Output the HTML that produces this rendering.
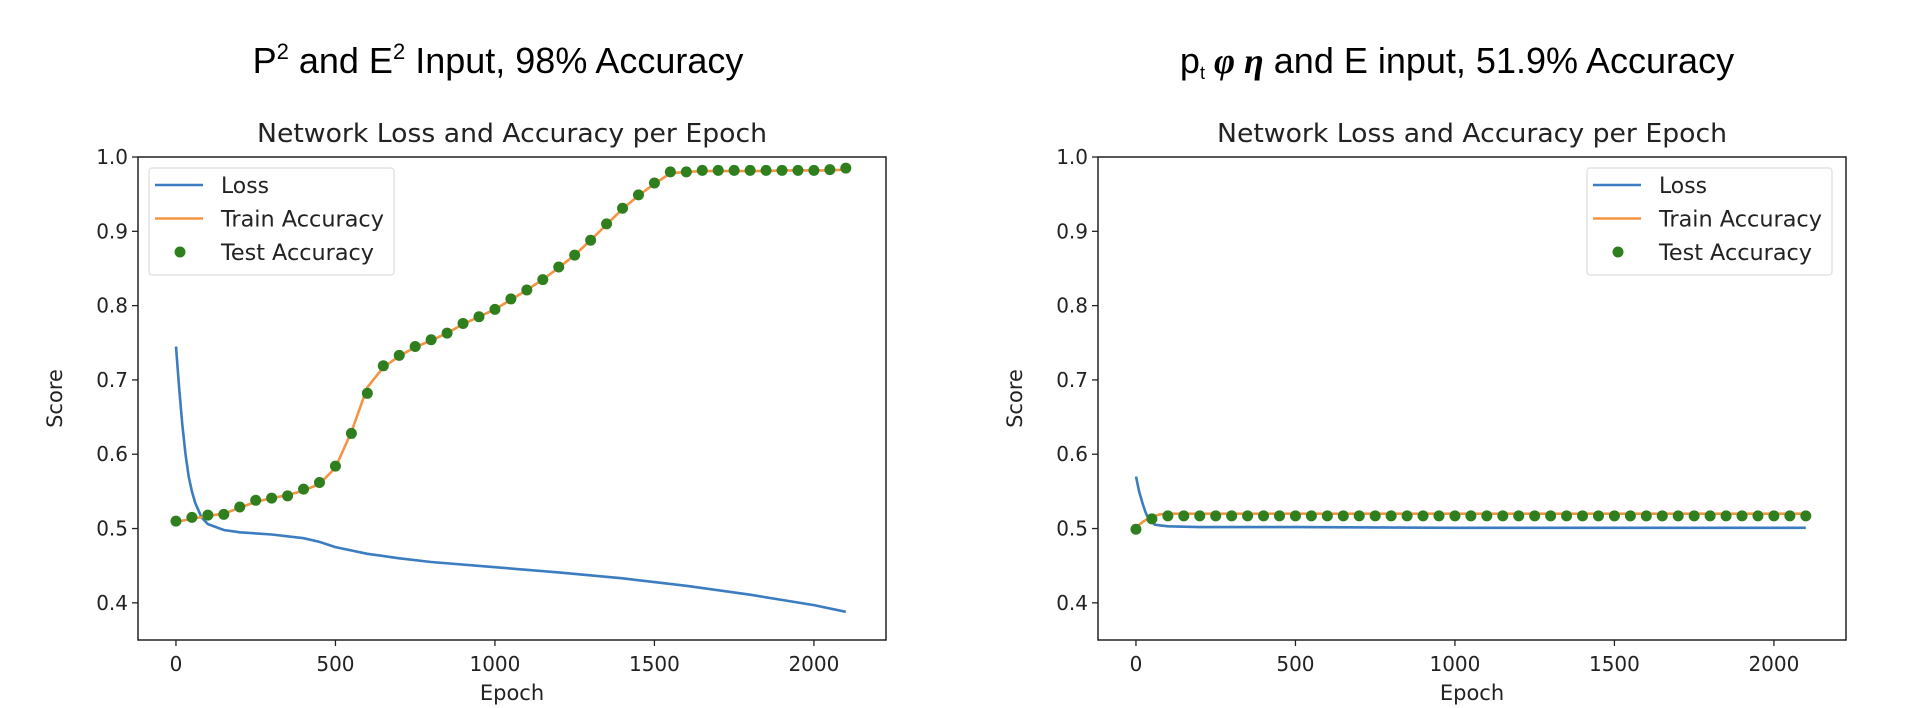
<!DOCTYPE html>
<html><head><meta charset="utf-8">
<style>
body{margin:0;background:#fff;}
svg{display:block;}
.t{font-family:"DejaVu Sans","Liberation Sans",sans-serif;fill:#222;}
.big{font-family:"Liberation Sans",sans-serif;fill:#000;}
</style></head>
<body>
<svg id="s" width="1916" height="708" viewBox="0 0 1916 708" xmlns="http://www.w3.org/2000/svg">
<text class="big" x="498" y="73" font-size="36" text-anchor="middle">P<tspan font-size="22" dy="-14">2</tspan><tspan dy="14"> and E</tspan><tspan font-size="22" dy="-14">2</tspan><tspan dy="14"> Input, 98% Accuracy</tspan></text>
<text class="big" x="1457" y="73" font-size="36" text-anchor="middle">p<tspan font-size="18" dy="6">t</tspan><tspan dy="-6" font-weight="bold" font-style="italic" font-family="Liberation Serif"> φ η</tspan><tspan> and E input, 51.9% Accuracy</tspan></text>
</svg>
<script>
// ---- left chart data ----
const leftTestX = [0,50,100,150,200,250,300,350,400,450,500,550,600,650,700,750,800,850,900,950,1000,1050,1100,1150,1200,1250,1300,1350,1400,1450,1500,1550,1600,1650,1700,1750,1800,1850,1900,1950,2000,2050,2100];
const leftTestY = [0.510,0.515,0.518,0.519,0.529,0.538,0.541,0.544,0.553,0.562,0.584,0.628,0.682,0.719,0.733,0.745,0.754,0.763,0.776,0.785,0.795,0.809,0.821,0.835,0.852,0.868,0.888,0.910,0.931,0.949,0.965,0.980,0.980,0.982,0.982,0.982,0.982,0.982,0.982,0.982,0.982,0.983,0.985];
const leftTrainX = leftTestX;
const leftTrainY = [0.509,0.513,0.517,0.520,0.528,0.536,0.541,0.545,0.551,0.560,0.582,0.630,0.690,0.717,0.732,0.744,0.753,0.763,0.775,0.785,0.795,0.808,0.821,0.835,0.851,0.868,0.888,0.909,0.930,0.948,0.964,0.978,0.980,0.981,0.981,0.981,0.981,0.981,0.982,0.982,0.982,0.982,0.983];
const leftLossX = [0,10,20,30,40,50,60,80,100,150,200,300,400,450,500,600,700,800,1000,1200,1400,1600,1800,2000,2100];
const leftLossY = [0.745,0.69,0.64,0.60,0.57,0.55,0.535,0.515,0.506,0.498,0.495,0.492,0.487,0.482,0.475,0.466,0.460,0.455,0.448,0.441,0.433,0.423,0.411,0.397,0.388];
// ---- right chart data ----
const rightTestX = leftTestX;
const rightTestY = [0.499,0.513,0.517,0.517,0.517,0.517,0.517,0.517,0.517,0.517,0.517,0.517,0.517,0.517,0.517,0.517,0.517,0.517,0.517,0.517,0.517,0.517,0.517,0.517,0.517,0.517,0.517,0.517,0.517,0.517,0.517,0.517,0.517,0.517,0.517,0.517,0.517,0.517,0.517,0.517,0.517,0.517,0.517];
const rightTrainX = [0,25,50,75,100,200,500,1000,1500,2000,2100];
const rightTrainY = [0.502,0.510,0.516,0.519,0.520,0.520,0.520,0.520,0.520,0.520,0.520];
const rightLossX = [0,10,20,30,40,60,80,100,200,500,1000,1500,2000,2100];
const rightLossY = [0.570,0.550,0.535,0.522,0.512,0.505,0.504,0.503,0.502,0.502,0.501,0.501,0.501,0.501];
const yTicks = [0.4,0.5,0.6,0.7,0.8,0.9,1.0];
const yTickLabels = ["0.4","0.5","0.6","0.7","0.8","0.9","1.0"];
const xTicks = [0,500,1000,1500,2000];
const xTickLabels = ["0","500","1000","1500","2000"];

const NS="http://www.w3.org/2000/svg";
const svg=document.getElementById('s');
function mk(tag,attrs,parent){const e=document.createElementNS(NS,tag);for(const k in attrs)e.setAttribute(k,attrs[k]);(parent||svg).appendChild(e);return e;}

function chart(prefix,L,R,legendX,data){
  const T=157,B=640,xmin=-119,xmax=2226,ymin=0.35,ymax=1.0;
  const sx=v=>L+(v-xmin)/(xmax-xmin)*(R-L);
  const sy=v=>B-(v-ymin)/(ymax-ymin)*(B-T);
  const g=mk('g',{});
  
  
  const st=mk('text',{x:(L+R)/2,y:142,'font-size':26,'text-anchor':'middle',class:'t',textLength:510,lengthAdjust:'spacingAndGlyphs'},g);
  st.textContent='Network Loss and Accuracy per Epoch';
  
  
  yTicks.forEach((v,i)=>{
    mk('line',{x1:L-6,x2:L,y1:sy(v),y2:sy(v),stroke:'#222','stroke-width':1.3},g);
    const t=mk('text',{x:L-10,y:sy(v)+7,'font-size':20,'text-anchor':'end',class:'t'},g);
    t.textContent=yTickLabels[i];
    
    
  });
  xTicks.forEach((v,i)=>{
    mk('line',{x1:sx(v),x2:sx(v),y1:B,y2:B+6,stroke:'#222','stroke-width':1.3},g);
    const t=mk('text',{x:sx(v),y:B+31,'font-size':20,'text-anchor':'middle',class:'t'},g);
    t.textContent=xTickLabels[i];
    
    
  });
  const xl=mk('text',{x:(L+R)/2,y:B+60,'font-size':21,'text-anchor':'middle',class:'t'},g);
  xl.textContent='Epoch';
  
  
  const yl=mk('text',{x:0,y:0,'font-size':21,'text-anchor':'middle',class:'t',transform:`translate(${L-76},${(T+B)/2}) rotate(-90)`},g);
  yl.textContent='Score';
  
  
  const path=(xs,ys)=>xs.map((x,i)=>(i?'L':'M')+sx(x).toFixed(1)+','+sy(ys[i]).toFixed(1)).join('');
  const lp=mk('path',{d:path(data.lx,data.ly),fill:'none',stroke:'#3b7dc0','stroke-width':2.6},g);
  
  
  const tp=mk('path',{d:path(data.tx,data.ty),fill:'none',stroke:'#f59445','stroke-width':2.6},g);
  
  
  data.px.forEach((x,i)=>{
    const c=mk('circle',{cx:sx(x),cy:sy(data.py[i]),r:5.5,fill:'#2f7f1f'},g);
    
    
  });
  const fr=mk('rect',{x:L,y:T,width:R-L,height:B-T,fill:'none',stroke:'#222','stroke-width':1.5},g);
  
  
  const lg=mk('g',{},g);
  
  
  mk('rect',{x:legendX,y:168,width:245,height:107,rx:3,fill:'#fff','fill-opacity':0.85,stroke:'#ddd','stroke-width':1.2},lg);
  const items=[['Loss','#3b7dc0','line'],['Train Accuracy','#f59445','line'],['Test Accuracy','#2f7f1f','dot']];
  items.forEach((it,i)=>{
    const y=185+i*33.5;
    if(it[2]==='line') mk('line',{x1:legendX+6,x2:legendX+54,y1:y,y2:y,stroke:it[1],'stroke-width':2.6},lg);
    else mk('circle',{cx:legendX+31,cy:y,r:5.5,fill:it[1]},lg);
    const t=mk('text',{x:legendX+72,y:y+8,'font-size':22,class:'t',textLength:[48,163,153][i],lengthAdjust:'spacingAndGlyphs'},lg);
    t.textContent=it[0];
    
    
  });
}
chart('left',138,886,149,{lx:leftLossX,ly:leftLossY,tx:leftTrainX,ty:leftTrainY,px:leftTestX,py:leftTestY});
chart('right',1098,1846,1587,{lx:rightLossX,ly:rightLossY,tx:rightTrainX,ty:rightTrainY,px:rightTestX,py:rightTestY});
</script>
</body></html>
